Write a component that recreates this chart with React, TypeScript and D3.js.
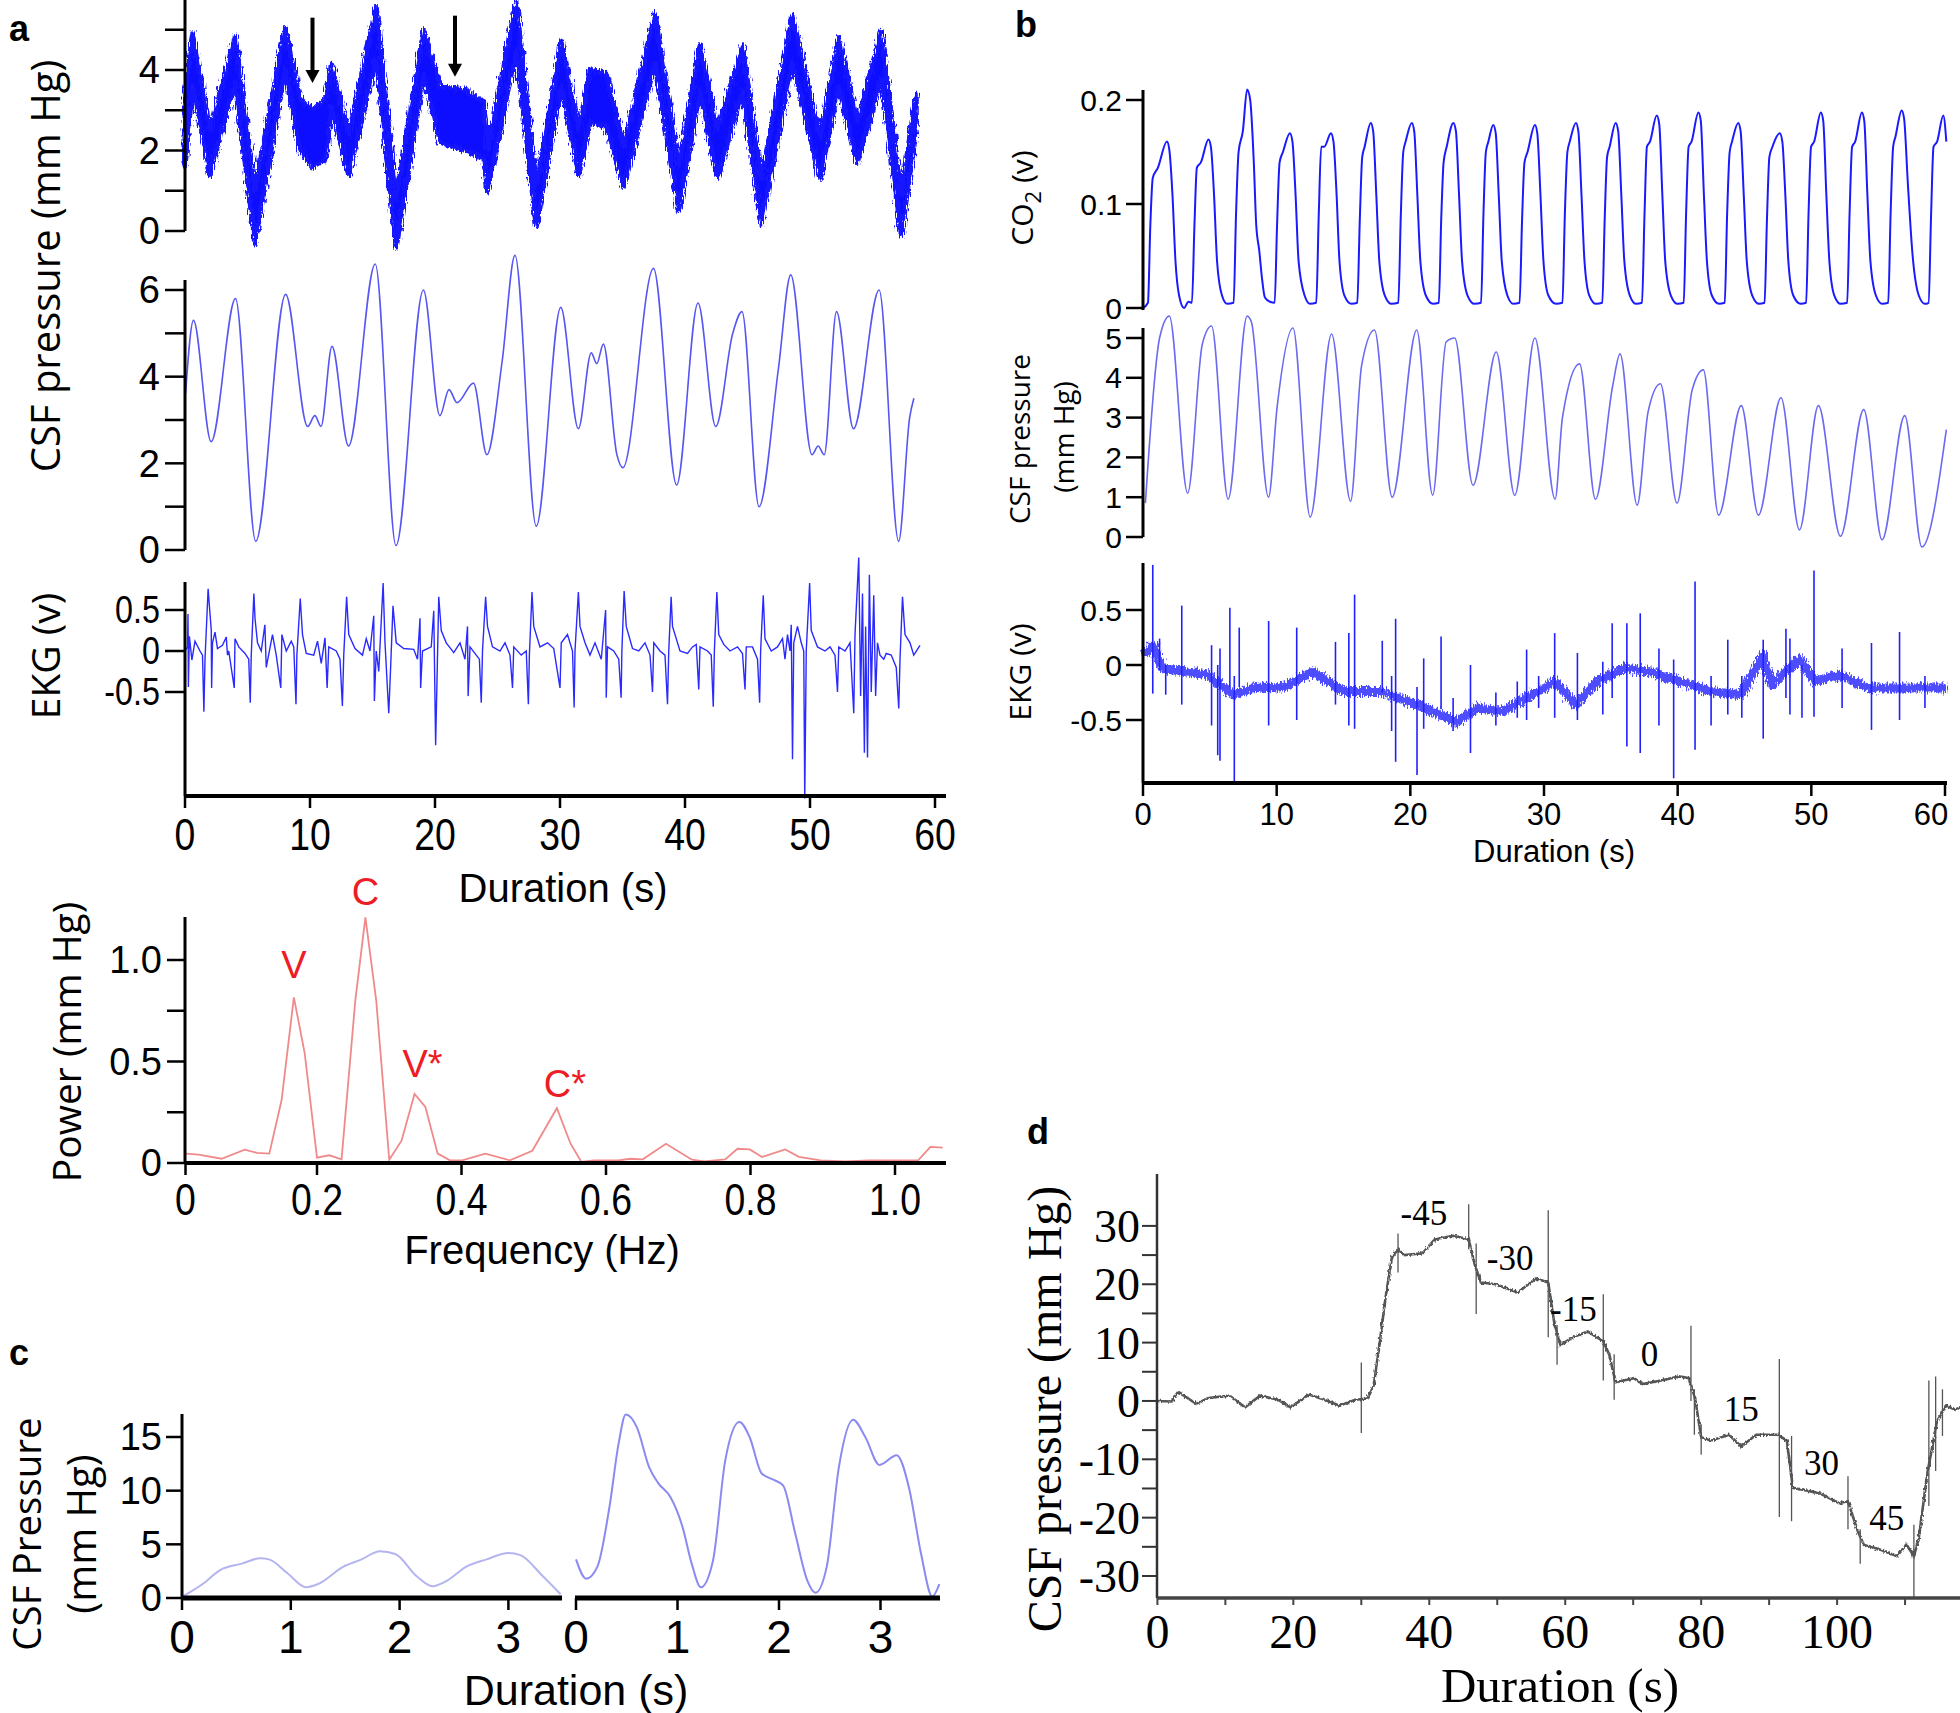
import React from "react";
import * as d3 from "d3";

const W = 1960;
const H = 1713;
const SANS = "'Liberation Sans', Arial, Helvetica, sans-serif";
const OPEN = "'Open Sans', 'DejaVu Sans', sans-serif";
const SERIF = "'Liberation Serif', 'Times New Roman', serif";

// ---------------- DATA ----------------
// Panel a – raw CSF pressure noise band: [time s, lower, upper] (mm Hg)
const aRawBand: [number, number, number][] = [
  [0.0, 1.6, 3.4], [0.6, 3.6, 4.9], [2.0, 1.4, 2.5], [4.0, 3.7, 4.85], [5.6, -0.3, 1.0],
  [8.0, 4.0, 5.05], [9.2, 2.0, 3.3], [10.2, 1.6, 3.0], [11.3, 1.8, 3.3], [11.7, 3.1, 4.15],
  [13.1, 1.4, 2.4], [15.3, 4.3, 5.55], [16.9, -0.4, 0.8], [19.1, 3.9, 5.0], [20.4, 2.2, 3.6],
  [22.4, 2.0, 3.5], [23.9, 1.8, 3.2], [24.2, 1.0, 2.0], [26.5, 4.5, 5.7], [28.1, 0.1, 1.1],
  [30.1, 3.6, 4.7], [31.5, 1.4, 2.5], [32.4, 2.7, 4.0], [33.7, 2.6, 3.9], [35.1, 1.1, 2.1],
  [37.6, 4.2, 5.4], [39.5, 0.5, 1.6], [41.2, 3.5, 4.6], [42.6, 1.3, 2.5], [44.6, 3.5, 4.6],
  [46.1, 0.2, 1.3], [48.6, 4.2, 5.35], [50.8, 1.3, 2.3], [52.3, 3.6, 4.8], [53.8, 1.7, 2.7],
  [55.7, 3.8, 4.95], [57.3, -0.1, 0.9], [58.5, 2.5, 3.4],
];
// Panel a – arrows [time s, top, tip] (mm Hg)
const aArrows: [number, number, number][] = [[10.2, 5.3, 3.68], [21.6, 5.35, 3.83]];
// Panel a – filtered CSF pressure [time s, mm Hg]
const aFiltered: [number, number][] = [
  [0.04, 3.6], [0.68, 5.3], [2.09, 2.5], [4.04, 5.8], [5.66, 0.2], [8.05, 5.9], [9.81, 2.85],
  [10.39, 3.1], [10.88, 2.85], [11.76, 4.7], [13.08, 2.4], [15.22, 6.6], [16.88, 0.1], [19.07, 6.0],
  [20.39, 3.1], [21.12, 3.7], [21.76, 3.4], [23.08, 3.85], [24.15, 2.2], [25.37, 4.35], [26.4, 6.8],
  [28.1, 0.55], [30.06, 5.6], [31.47, 2.8], [32.5, 4.55], [32.94, 4.3], [33.47, 4.75], [34.55, 2.2],
  [35.03, 1.9], [37.48, 6.5], [39.33, 1.5], [41.04, 5.7], [42.46, 2.85], [43.82, 5.0], [44.56, 5.5],
  [45.92, 1.0], [47.48, 4.2], [48.46, 6.35], [50.16, 2.2], [50.65, 2.4], [51.14, 2.2], [52.12, 5.5],
  [53.48, 2.8], [55.53, 6.0], [57.09, 0.2], [57.97, 3.05], [58.31, 3.5],
];
// Panel a – EKG [time s, v]
const aEkg: [number, number][] = [
  [0, 0], [0.2, 0.05], [0.24, 0.45], [0.27, -0.44], [0.35, 0.18], [0.55, -0.11], [0.8, 0.12], [1.2, 0.0],
  [1.4, -0.05], [1.51, -0.74], [1.6, -0.1], [1.85, 0.76], [1.95, 0.55], [2.1, 0.26], [2.13, -0.45], [2.2, 0.1],
  [2.4, 0.23], [2.6, 0.03], [3.0, 0.07], [3.3, 0.17], [3.4, -0.05], [3.5, 0.0], [3.94, -0.45], [4.0, 0.15],
  [4.3, 0.05], [4.8, -0.03], [5.1, -0.1], [5.22, -0.63], [5.3, -0.05], [5.51, 0.7], [5.6, 0.4], [5.8, 0.1],
  [6.1, 0.0], [6.39, 0.32], [6.5, -0.2], [7.0, 0.2], [7.3, -0.05], [7.66, -0.45], [7.75, 0.2], [8.1, 0.0],
  [8.5, 0.12], [8.7, 0.05], [8.88, -0.65], [8.95, -0.05], [9.22, 0.64], [9.4, 0.2], [9.7, -0.03], [10.3, -0.05],
  [10.6, 0.12], [10.9, -0.15], [11.2, 0.16], [11.37, -0.45], [11.5, 0.05], [12.1, 0.0], [12.4, -0.1],
  [12.59, -0.67], [12.7, -0.05], [12.93, 0.66], [13.1, 0.2], [13.6, 0.03], [14.2, -0.05], [14.5, 0.15],
  [14.8, 0.0], [15.1, 0.43], [15.15, -0.61], [15.3, 0.0], [15.5, -0.25], [15.85, 0.83], [16.0, 0.1],
  [16.3, -0.76], [16.45, -0.2], [16.64, 0.55], [16.9, 0.1], [17.5, 0.03], [18.3, 0.02], [18.6, -0.1],
  [18.8, 0.4], [18.85, -0.45], [19.0, 0.0], [19.7, 0.05], [19.9, 0.49], [20.05, -1.15], [20.3, 0.66],
  [20.5, 0.25], [20.9, 0.1], [21.5, -0.02], [22.0, 0.1], [22.4, -0.1], [22.6, 0.3], [22.65, -0.55],
  [22.8, 0.05], [23.3, -0.05], [23.55, -0.1], [23.7, -0.63], [23.8, 0.0], [24.05, 0.66], [24.2, 0.3],
  [24.6, 0.05], [25.2, 0.0], [25.6, 0.1], [26.0, -0.05], [26.2, -0.45], [26.3, 0.05], [26.9, -0.05],
  [27.3, 0.0], [27.47, -0.65], [27.55, -0.05], [27.76, 0.72], [27.9, 0.3], [28.4, 0.05], [29.0, 0.1],
  [29.5, 0.03], [30.0, -0.45], [30.1, 0.1], [30.6, 0.2], [31.0, 0.0], [31.13, -0.69], [31.2, 0.0],
  [31.47, 0.72], [31.6, 0.3], [32.0, 0.1], [32.4, -0.05], [32.8, 0.1], [33.3, -0.1], [33.65, 0.5],
  [33.7, -0.57], [33.8, 0.05], [34.3, 0.0], [34.7, -0.1], [34.89, -0.57], [34.95, 0.0], [35.13, 0.73],
  [35.3, 0.3], [35.8, 0.03], [36.3, 0.0], [36.8, 0.1], [37.2, -0.05], [37.4, -0.5], [37.5, 0.1], [38.0, 0.0],
  [38.4, -0.05], [38.6, -0.65], [38.7, 0.0], [38.89, 0.66], [39.0, 0.3], [39.6, 0.0], [40.2, -0.03],
  [40.6, 0.05], [40.9, 0.08], [41.1, -0.47], [41.2, 0.05], [41.8, 0.0], [42.1, -0.05], [42.26, -0.68],
  [42.35, 0.0], [42.55, 0.72], [42.7, 0.2], [43.1, 0.08], [43.6, 0.0], [44.2, 0.05], [44.6, -0.03],
  [44.8, -0.47], [44.9, 0.05], [45.4, 0.05], [45.8, -0.1], [45.97, -0.63], [46.05, 0.0], [46.26, 0.68],
  [46.4, 0.15], [46.9, 0.0], [47.4, 0.05], [47.8, 0.15], [48.0, -0.1], [48.2, 0.2], [48.4, 0.0], [48.5, 0.32],
  [48.6, -1.32], [48.7, 0.1], [49.0, 0.3], [49.3, 0.1], [49.5, 0.0], [49.58, -1.8], [49.7, 0.0], [49.97, 0.83],
  [50.1, 0.25], [50.6, 0.05], [51.2, 0.0], [51.6, 0.05], [52.0, -0.05], [52.2, -0.5], [52.3, 0.05],
  [52.8, 0.0], [53.2, 0.1], [53.5, -0.76], [53.6, 0.2], [53.9, 1.14], [54.05, -0.55], [54.2, 0.7],
  [54.35, -1.24], [54.45, 0.3], [54.6, -1.3], [54.75, 0.93], [54.9, -0.5], [55.1, 0.68], [55.25, -0.55],
  [55.4, 0.1], [55.6, -0.05], [55.9, -0.1], [56.1, -0.03], [56.5, -0.05], [56.9, -0.2], [57.1, -0.7],
  [57.2, -0.1], [57.4, 0.66], [57.6, 0.2], [58.0, 0.1], [58.3, -0.05], [58.8, 0.07],
];
// Panel a – power spectrum [Hz, mm Hg]
const aSpectrum: [number, number][] = [
  [0.018, 0.046], [0.036, 0.041], [0.068, 0.021], [0.1, 0.066], [0.117, 0.05], [0.134, 0.046],
  [0.151, 0.31], [0.168, 0.816], [0.183, 0.54], [0.2, 0.026], [0.217, 0.038], [0.234, 0.018],
  [0.253, 0.8], [0.267, 1.21], [0.282, 0.8], [0.3, 0.016], [0.317, 0.11], [0.335, 0.34], [0.35, 0.276],
  [0.367, 0.046], [0.384, 0.013], [0.401, 0.013], [0.433, 0.046], [0.467, 0.013], [0.498, 0.06],
  [0.532, 0.27], [0.551, 0.095], [0.566, 0.005], [0.583, 0.013], [0.617, 0.013], [0.634, 0.021],
  [0.651, 0.018], [0.683, 0.095], [0.719, 0.016], [0.736, 0.008], [0.765, 0.018], [0.782, 0.07],
  [0.799, 0.067], [0.816, 0.03], [0.848, 0.067], [0.867, 0.03], [0.897, 0.013], [0.931, 0.008],
  [0.964, 0.013], [1.032, 0.013], [1.049, 0.079], [1.066, 0.076],
];
const aPeakLabels = [
  { text: "V", f: 0.168, p: 0.975 },
  { text: "C", f: 0.267, p: 1.336 },
  { text: "V*", f: 0.346, p: 0.49 },
  { text: "C*", f: 0.543, p: 0.39 },
];
const timeTicks60 = [0, 10, 20, 30, 40, 50, 60];
const freqTicks: [number, string][] = [[0.018, "0"], [0.2, "0.2"], [0.4, "0.4"], [0.6, "0.6"], [0.8, "0.8"], [1.0, "1.0"]];

// Panel b – CO2 [time s, v]
const bCO2: [number, number][] = [
  [0, 0.0], [0.37, 0.005], [0.55, 0.08], [0.73, 0.125], [1.12, 0.135], [1.79, 0.16], [1.97, 0.152], [2.2, 0.11], [2.43, 0.045], [2.7, 0.012], [3.07, 0.0], [3.4, 0.006],
  [3.66, 0.005], [3.85, 0.08], [4.03, 0.135], [4.33, 0.14], [4.9, 0.162], [5.08, 0.155], [5.31, 0.11], [5.54, 0.045], [5.91, 0.012], [6.3, 0.004],
  [6.78, 0.005], [6.96, 0.09], [7.15, 0.15], [7.47, 0.17], [7.79, 0.21], [8.02, 0.2], [8.29, 0.14], [8.47, 0.08], [8.7, 0.055], [8.89, 0.03], [9.12, 0.01], [9.5, 0.006],
  [9.85, 0.005], [10.03, 0.08], [10.22, 0.14], [10.47, 0.15], [10.99, 0.168], [11.18, 0.16], [11.41, 0.11], [11.64, 0.045], [12.09, 0.012], [12.5, 0.004],
  [12.96, 0.005], [13.15, 0.09], [13.33, 0.155], [13.56, 0.155], [14.06, 0.168], [14.25, 0.16], [14.48, 0.11], [14.7, 0.045], [15.07, 0.012], [15.6, 0.004],
  [16.03, 0.005], [16.22, 0.085], [16.4, 0.145], [16.58, 0.155], [17.04, 0.178], [17.22, 0.17], [17.45, 0.11], [17.68, 0.045], [18.09, 0.012], [18.6, 0.004],
  [19.1, 0.005], [19.29, 0.09], [19.47, 0.15], [19.65, 0.16], [20.11, 0.178], [20.29, 0.17], [20.52, 0.11], [20.75, 0.045], [21.16, 0.012], [21.7, 0.004],
  [22.13, 0.005], [22.31, 0.085], [22.49, 0.14], [22.72, 0.155], [23.22, 0.178], [23.41, 0.17], [23.64, 0.11], [23.87, 0.045], [24.28, 0.012], [24.8, 0.004],
  [25.29, 0.005], [25.47, 0.09], [25.65, 0.15], [25.84, 0.16], [26.2, 0.176], [26.39, 0.168], [26.61, 0.11], [26.84, 0.045], [27.26, 0.012], [27.7, 0.004],
  [28.17, 0.005], [28.36, 0.085], [28.54, 0.14], [28.77, 0.15], [29.32, 0.176], [29.5, 0.168], [29.73, 0.11], [29.96, 0.045], [30.33, 0.012], [30.9, 0.004],
  [31.38, 0.005], [31.56, 0.09], [31.75, 0.15], [31.93, 0.16], [32.39, 0.178], [32.57, 0.17], [32.8, 0.11], [33.03, 0.045], [33.39, 0.012], [33.9, 0.004],
  [34.36, 0.005], [34.54, 0.085], [34.72, 0.145], [34.91, 0.155], [35.36, 0.178], [35.55, 0.17], [35.78, 0.11], [36.01, 0.045], [36.42, 0.012], [36.9, 0.004],
  [37.33, 0.005], [37.52, 0.09], [37.7, 0.155], [37.93, 0.16], [38.43, 0.185], [38.62, 0.177], [38.85, 0.11], [39.07, 0.045], [39.49, 0.012], [40.0, 0.004],
  [40.45, 0.005], [40.63, 0.09], [40.82, 0.155], [41.04, 0.16], [41.55, 0.188], [41.73, 0.18], [41.96, 0.11], [42.19, 0.045], [42.56, 0.012], [43.1, 0.004],
  [43.52, 0.005], [43.7, 0.09], [43.89, 0.15], [44.07, 0.16], [44.53, 0.178], [44.71, 0.17], [44.94, 0.11], [45.17, 0.045], [45.58, 0.012], [46.1, 0.004],
  [46.5, 0.005], [46.68, 0.085], [46.86, 0.145], [47.09, 0.155], [47.64, 0.168], [47.83, 0.16], [48.05, 0.11], [48.28, 0.045], [48.65, 0.012], [49.2, 0.004],
  [49.61, 0.005], [49.79, 0.09], [49.98, 0.155], [50.21, 0.16], [50.71, 0.188], [50.89, 0.18], [51.12, 0.11], [51.35, 0.045], [51.72, 0.012], [52.2, 0.004],
  [52.68, 0.005], [52.86, 0.09], [53.05, 0.155], [53.28, 0.16], [53.78, 0.188], [53.96, 0.18], [54.19, 0.11], [54.42, 0.045], [54.83, 0.012], [55.3, 0.004],
  [55.75, 0.005], [55.93, 0.09], [56.12, 0.155], [56.3, 0.165], [56.76, 0.19], [56.94, 0.182], [57.22, 0.12], [57.58, 0.05], [58.04, 0.012], [58.5, 0.004],
  [58.77, 0.005], [58.96, 0.09], [59.14, 0.155], [59.41, 0.16], [59.87, 0.185], [60.1, 0.16],
];
// Panel b – CSF pressure [time s, mm Hg]
const bCSF: [number, number][] = [
  [0.18, 0.85], [1.24, 5.0], [1.97, 5.55], [3.34, 1.1], [4.44, 4.85], [5.13, 5.3], [6.37, 0.95],
  [7.79, 5.55], [8.11, 5.4], [9.39, 1.0], [10.03, 3.25], [11.22, 5.25], [12.51, 0.5], [14.11, 5.1],
  [15.53, 0.9], [16.35, 4.3], [17.32, 5.2], [18.64, 1.0], [20.48, 5.2], [21.67, 1.05], [22.68, 4.9],
  [23.32, 5.0], [24.69, 1.3], [26.43, 4.65], [27.81, 1.05], [29.32, 5.0], [30.83, 0.95], [31.38, 3.0],
  [32.66, 4.35], [33.85, 0.95], [35.14, 3.8], [35.69, 4.6], [36.97, 0.8], [37.79, 3.15], [38.71, 3.85],
  [39.95, 0.85], [41.09, 3.7], [41.92, 4.2], [43.06, 0.55], [44.76, 3.3], [46.04, 0.55], [47.73, 3.5],
  [49.11, 0.18], [50.53, 3.3], [52.18, 0.02], [53.92, 3.2], [55.29, -0.07], [56.99, 3.05],
  [58.27, -0.25], [60.1, 2.7],
];
// Panel b – EKG wandering baseline [time s, v]
const bEkgBase: [number, number][] = [
  [0, 0.09], [0.78, 0.18], [1.47, -0.03], [3.07, -0.06], [4.9, -0.09], [6.73, -0.27], [8.57, -0.2],
  [10.4, -0.21], [12.69, -0.06], [14.98, -0.24], [17.73, -0.24], [20.48, -0.36], [23.45, -0.52],
  [25.06, -0.39], [26.89, -0.42], [28.72, -0.3], [30.78, -0.15], [32.39, -0.36], [33.99, -0.15],
  [36.05, -0.03], [37.88, -0.06], [40.17, -0.15], [42.46, -0.24], [44.76, -0.27], [46.36, 0.09],
  [47.05, -0.18], [49.11, 0.06], [50.25, -0.15], [52.08, -0.09], [54.37, -0.21], [57.12, -0.21], [60.1, -0.21],
];
// Panel b – EKG spikes [time s, low, high]
const bEkgSpikes: [number, number, number][] = [
  [0.73, -0.26, 0.91], [1.24, -0.05, 0.24], [1.7, -0.27, 0.0], [2.9, -0.36, 0.54], [5.13, -0.55, 0.18],
  [5.59, -0.82, 0.0], [5.76, -0.87, 0.15], [6.5, -0.2, 0.52], [6.83, -1.09, -0.1], [7.2, -0.2, 0.34],
  [9.4, -0.55, 0.4], [11.5, -0.5, 0.34], [14.4, -0.36, 0.21], [15.4, -0.55, 0.29], [15.83, -0.58, 0.64],
  [17.9, -0.25, 0.22], [18.6, -0.6, -0.1], [18.9, -0.88, 0.42], [20.5, -1.0, -0.2], [21.0, -0.58, 0.06],
  [22.3, -0.4, 0.26], [23.2, -0.6, -0.3], [24.5, -0.8, 0.0], [26.4, -0.55, -0.25], [28.0, -0.48, -0.15],
  [28.7, -0.5, 0.14], [29.6, -0.39, -0.1], [30.8, -0.48, 0.29], [32.5, -0.5, 0.11], [34.4, -0.45, 0.03],
  [35.1, -0.3, 0.38], [36.2, -0.74, 0.38], [37.2, -0.8, 0.47], [38.6, -0.55, 0.15], [39.7, -1.03, 0.05],
  [41.3, -0.77, 0.76], [42.5, -0.55, -0.1], [43.75, -0.45, 0.23], [44.8, -0.48, -0.1], [46.4, -0.67, 0.23],
  [48.1, -0.3, 0.33], [48.4, -0.45, 0.24], [49.3, -0.48, 0.0], [50.2, -0.47, 0.86], [52.3, -0.39, 0.15],
  [54.5, -0.59, 0.2], [56.6, -0.5, 0.3], [58.5, -0.39, -0.1],
];

// Panel c – CSF pressure before / after [time s, mm Hg]
const cBefore: [number, number][] = [
  [0, 0.1], [0.19, 1.3], [0.35, 2.6], [0.55, 3.2], [0.72, 3.7], [0.8, 3.6], [0.97, 2.3], [1.14, 1.0],
  [1.25, 1.3], [1.48, 2.9], [1.65, 3.6], [1.82, 4.35], [1.96, 4.1], [2.16, 2.0], [2.3, 1.1], [2.44, 1.65],
  [2.61, 2.9], [2.8, 3.6], [3.0, 4.2], [3.11, 4.0], [3.31, 2.1], [3.48, 0.35],
];
const cAfter: [number, number][] = [
  [0, 3.6], [0.1, 1.8], [0.21, 2.9], [0.33, 8.5], [0.42, 14.4], [0.49, 17.1], [0.6, 15.9], [0.72, 12.2],
  [0.81, 10.7], [0.93, 9.4], [1.05, 6.6], [1.14, 3.2], [1.23, 1.0], [1.35, 3.5], [1.47, 12.8], [1.61, 16.4],
  [1.71, 15.0], [1.83, 11.6], [1.95, 11.0], [2.04, 10.5], [2.16, 6.0], [2.28, 1.6], [2.36, 0.5], [2.47, 2.9],
  [2.59, 12.2], [2.73, 16.6], [2.85, 15.0], [2.99, 12.4], [3.16, 13.3], [3.28, 10.3], [3.4, 4.1],
  [3.51, 0.15], [3.58, 1.3],
];
const cTicks = [0, 1, 2, 3];

// Panel d – CSF pressure during tilt [time s, mm Hg]
const dTrace: [number, number][] = [
  [0, 0], [2.1, -0.1], [3.0, 1.5], [3.9, 0.9], [5.7, -0.5], [7.5, 0.5], [10.6, 0.9], [12.9, -1.1],
  [15.1, 0.9], [17.8, 0.2], [19.6, -1.1], [22.3, 1.1], [24.6, 0.2], [26.8, -0.8], [29.1, 0.2], [30.9, 0.4],
  [31.8, 2.5], [32.7, 9.9], [33.6, 18.0], [34.5, 24.6], [35.4, 26.0], [36.3, 25.0], [39.0, 25.3],
  [40.8, 27.7], [43.5, 28.3], [45.8, 27.7], [46.7, 23.3], [47.6, 20.3], [49.8, 20.0], [53.0, 18.6],
  [55.7, 21.0], [57.5, 20.3], [58.4, 13.3], [59.3, 9.6], [61.1, 10.9], [63.3, 11.9], [65.6, 10.2],
  [66.5, 7.9], [67.4, 3.2], [70.1, 3.9], [71.4, 2.9], [74.1, 3.5], [76.8, 4.2], [78.2, 3.9], [79.1, 0.5],
  [80.0, -6.2], [81.4, -6.8], [84.1, -5.8], [85.9, -7.8], [88.1, -5.8], [91.3, -5.8], [92.6, -6.8],
  [93.5, -14.9], [94.9, -15.2], [97.6, -15.9], [100.3, -17.5], [101.6, -17.2], [103.0, -22.2],
  [103.9, -24.6], [106.6, -25.6], [108.8, -26.6], [110.2, -24.6], [111.3, -26.6], [112.0, -23.6],
  [113.3, -12.2], [114.7, -3.5], [116.0, -0.8], [117.4, -1.5], [118.2, -1.0],
];
// Panel d – transient spikes [time s, low, high]
const dSpikes: [number, number, number][] = [
  [30.0, -5.5, 6.6], [35.4, 22, 28.7], [45.8, 26, 33.7], [46.9, 14.9, 27], [57.5, 10.9, 32.7],
  [58.8, 6.2, 13], [65.6, 3.5, 18.3], [67.2, 0.2, 8], [78.5, 0, 12.9], [79.0, -5.8, 2], [80.0, -9.2, -4],
  [91.5, -19.9, 7.2], [93.3, -20.6, -6], [101.6, -22, -12.9], [103.4, -27.9, -22], [111.3, -33.6, -21.2],
  [113.5, -18, 3.5], [114.5, -12, 4.2], [115.5, -6, 2],
];
// Panel d – tilt angle annotations
const dAngles = [
  { text: "-45", t: 39.2, v: 32.2 }, { text: "-30", t: 51.9, v: 24.5 }, { text: "-15", t: 61.2, v: 15.8 },
  { text: "0", t: 72.4, v: 8.1 }, { text: "15", t: 85.9, v: -1.3 }, { text: "30", t: 97.7, v: -10.6 },
  { text: "45", t: 107.3, v: -20.1 },
];
const dYMajor = [-30, -20, -10, 0, 10, 20, 30];
const dYMinor = [-25, -15, -5, 5, 15, 25];
const dXTicks = [0, 10, 20, 30, 40, 50, 60, 70, 80, 90, 100, 110];
const dXLabels = [0, 20, 40, 60, 80, 100];

// ---------------- HELPERS ----------------
type Scale = d3.ScaleLinear<number, number>;

function Txt(p: {
  x: number; y: number; s: React.ReactNode; fs: number; anchor?: string; family?: string; sx?: number;
  weight?: string; fill?: string; rot?: number; dy?: string;
}) {
  const { x, y, s, fs, anchor = "middle", family = SANS, sx = 1, weight = "normal", fill = "#000", rot = 0, dy = "0.35em" } = p;
  const tr = `translate(${x},${y})` + (rot ? ` rotate(${rot})` : "") + (sx !== 1 ? ` scale(${sx},1)` : "");
  return (
    <text transform={tr} textAnchor={anchor as any} fontFamily={family} fontSize={fs} fontWeight={weight} fill={fill} dy={dy}>
      {s}
    </text>
  );
}

function YAx(p: {
  x: number; top: number; bottom: number; scale: Scale; major: number[]; minor?: number[];
  fmt?: (v: number) => string; len: number; fs: number; gap?: number; sw?: number; family?: string;
  sx?: number; color?: string; tickW?: number;
}) {
  const { x, top, bottom, scale, major, minor = [], fmt = (v: number) => String(v), len, fs, gap = 5, sw = 3, family = SANS, sx = 1, color = "#000", tickW = 2.5 } = p;
  return (
    <g>
      <line x1={x} x2={x} y1={top} y2={bottom} stroke={color} strokeWidth={sw} />
      {[...major, ...minor].map((v, i) => (
        <line key={"t" + i} x1={x - len} x2={x} y1={scale(v)} y2={scale(v)} stroke={color} strokeWidth={tickW} />
      ))}
      {major.map((v, i) => (
        <Txt key={"l" + i} x={x - len - gap} y={scale(v)} s={fmt(v)} fs={fs} anchor="end" family={family} sx={sx} />
      ))}
    </g>
  );
}

function XAx(p: {
  y: number; left: number; right: number; scale: Scale; ticks: number[]; labels: [number, string][];
  len: number; fs: number; labelY: number; sw?: number; family?: string; sx?: number; color?: string; tickW?: number;
  lastShift?: number;
}) {
  const { y, left, right, scale, ticks, labels, len, fs, labelY, sw = 4, family = SANS, sx = 1, color = "#000", tickW = 2.5, lastShift = 0 } = p;
  return (
    <g>
      <line x1={left} x2={right} y1={y} y2={y} stroke={color} strokeWidth={sw} />
      {ticks.map((v, i) => (
        <line key={"t" + i} x1={scale(v)} x2={scale(v)} y1={y} y2={y + len} stroke={color} strokeWidth={tickW} />
      ))}
      {labels.map(([v, s], i) => (
        <Txt key={"l" + i} x={scale(v) + (i === labels.length - 1 ? lastShift : 0)} y={labelY} s={s} fs={fs} family={family} sx={sx} />
      ))}
    </g>
  );
}

const lbl = (arr: number[]): [number, string][] => arr.map((v) => [v, String(v)]);

// ---------------- APP ----------------
export default function App() {
  // Panel a scales
  const tA = d3.scaleLinear().domain([0, 60]).range([185, 935]);
  const yA1 = d3.scaleLinear().domain([0, 4]).range([231, 70]);
  const yA2 = d3.scaleLinear().domain([0, 6]).range([550, 290]);
  const yA3 = d3.scaleLinear().domain([-0.5, 0.5]).range([692, 610]);
  const fP = d3.scaleLinear().domain([0.2, 1.0]).range([317, 895]);
  const yP = d3.scaleLinear().domain([0, 1]).range([1163, 960]);
  // Panel b scales
  const tB = d3.scaleLinear().domain([0, 60]).range([1143, 1945]);
  const yB1 = d3.scaleLinear().domain([0, 0.2]).range([308, 100]);
  const yB2 = d3.scaleLinear().domain([0, 5]).range([537, 338]);
  const yB3 = d3.scaleLinear().domain([-0.5, 0.5]).range([720, 610]);
  // Panel c scales
  const yC = d3.scaleLinear().domain([0, 15]).range([1598, 1437]);
  const tC1 = d3.scaleLinear().domain([0, 3]).range([182, 508.4]);
  const tC2 = d3.scaleLinear().domain([0, 3]).range([576, 880.5]);
  // Panel d scales
  const tD = d3.scaleLinear().domain([0, 100]).range([1157.4, 1837.1]);
  const yD = d3.scaleLinear().domain([-30, 30]).range([1576, 1225.9]);

  const band = d3.area<[number, number, number]>().x((d) => tA(d[0])).y0((d) => yA1(d[1])).y1((d) => yA1(d[2]));
  const lineOf = (xs: Scale, ys: Scale, curve: d3.CurveFactory = d3.curveLinear) =>
    d3.line<[number, number]>().x((d) => xs(d[0])).y((d) => ys(d[1])).curve(curve);

  return (
    <svg width={W} height={H} style={{ position: "absolute", left: 0, top: 0 }} xmlns="http://www.w3.org/2000/svg">
      <defs>
        <filter id="rough" x="-3%" y="-10%" width="106%" height="120%">
          <feTurbulence type="fractalNoise" baseFrequency="0.9 0.12" numOctaves={2} seed={4} result="n" />
          <feDisplacementMap in="SourceGraphic" in2="n" scale={9} xChannelSelector="R" yChannelSelector="G" />
        </filter>
        <filter id="roughB" x="-3%" y="-20%" width="106%" height="140%">
          <feTurbulence type="fractalNoise" baseFrequency="0.8 0.2" numOctaves={2} seed={9} result="n" />
          <feDisplacementMap in="SourceGraphic" in2="n" scale={10} xChannelSelector="R" yChannelSelector="G" />
        </filter>
        <filter id="roughD" x="-3%" y="-5%" width="106%" height="110%">
          <feTurbulence type="fractalNoise" baseFrequency="0.6 0.3" numOctaves={1} seed={2} result="n" />
          <feDisplacementMap in="SourceGraphic" in2="n" scale={4} xChannelSelector="R" yChannelSelector="G" />
        </filter>
      </defs>
      <rect width={W} height={H} fill="#fff" />

      {/* ========== PANEL A ========== */}
      <Txt x={9} y={28} s="a" fs={36} anchor="start" weight="bold" />
      {/* raw CSF */}
      <g filter="url(#rough)">
        <path d={band(aRawBand) || ""} fill="#0808ff" stroke="#1414ff" strokeWidth={5} strokeLinejoin="round" />
      </g>
      {aArrows.map(([t, top, tip], i) => (
        <g key={i}>
          <line x1={tA(t)} x2={tA(t)} y1={yA1(top)} y2={yA1(tip) - 10} stroke="#000" strokeWidth={4} />
          <path d={`M${tA(t) - 7},${yA1(tip) - 13} L${tA(t) + 7},${yA1(tip) - 13} L${tA(t)},${yA1(tip)} Z`} fill="#000" />
        </g>
      ))}
      <YAx x={185} top={0} bottom={231} scale={yA1} major={[0, 2, 4]} minor={[1, 3, 5]} len={20} fs={38} />
      {/* filtered CSF */}
      <path d={lineOf(tA, yA2, d3.curveMonotoneX)(aFiltered) || ""} fill="none" stroke="#5656f2" strokeWidth={1.6} />
      <YAx x={185} top={280} bottom={550} scale={yA2} major={[0, 2, 4, 6]} minor={[1, 3, 5]} len={20} fs={38} />
      {/* EKG */}
      <path d={lineOf(tA, yA3)(aEkg) || ""} fill="none" stroke="#2a2aff" strokeWidth={1.4} />
      <YAx x={185} top={582} bottom={796} scale={yA3} major={[-0.5, 0, 0.5]} len={20} fs={38} sx={0.85} />
      <XAx y={796} left={185} right={946} scale={tA} ticks={timeTicks60} labels={lbl(timeTicks60)} len={12} fs={44} labelY={835} sx={0.85} />
      <Txt x={46} y={266} s="CSF pressure (mm Hg)" fs={40} rot={-90} family={OPEN} />
      <Txt x={46} y={656} s="EKG (v)" fs={39} rot={-90} family={OPEN} />
      <Txt x={563} y={888} s="Duration (s)" fs={40} />
      {/* spectrum */}
      <path d={lineOf(fP, yP)(aSpectrum) || ""} fill="none" stroke="#f08a8a" strokeWidth={1.8} />
      {aPeakLabels.map((l, i) => (
        <Txt key={i} x={fP(l.f)} y={yP(l.p)} s={l.text} fs={38} fill="#ee1c25" />
      ))}
      <YAx x={185} top={917} bottom={1163} scale={yP} major={[0, 0.5, 1.0]} minor={[0.25, 0.75]}
        fmt={(v) => (v === 0 ? "0" : v.toFixed(1))} len={18} fs={38} gap={5} />
      <XAx y={1163} left={185} right={946} scale={fP} ticks={freqTicks.map((d) => d[0])} labels={freqTicks} len={12} fs={44} labelY={1200} sx={0.85} />
      <Txt x={67} y={1042} s="Power (mm Hg)" fs={39} rot={-90} family={OPEN} />
      <Txt x={542} y={1250} s="Frequency (Hz)" fs={40} />

      {/* ========== PANEL B ========== */}
      <Txt x={1015} y={24} s="b" fs={36} anchor="start" weight="bold" />
      <path d={lineOf(tB, yB1, d3.curveMonotoneX)(bCO2) || ""} fill="none" stroke="#1a1aff" strokeWidth={2} />
      <YAx x={1143} top={90} bottom={310} scale={yB1} major={[0, 0.1, 0.2]} len={17} fs={30} gap={4} />
      <path d={lineOf(tB, yB2, d3.curveMonotoneX)(bCSF) || ""} fill="none" stroke="#6a6af2" strokeWidth={1.6} />
      <YAx x={1143} top={328} bottom={537} scale={yB2} major={[0, 1, 2, 3, 4, 5]} len={17} fs={30} gap={4} />
      <g filter="url(#roughB)">
        <path d={lineOf(tB, yB3)(bEkgBase) || ""} fill="none" stroke="#2f2fff" strokeWidth={9} strokeOpacity={0.85} strokeLinejoin="round" />
      </g>
      {bEkgSpikes.map(([t, lo, hi], i) => (
        <line key={i} x1={tB(t)} x2={tB(t)} y1={yB3(lo)} y2={yB3(hi)} stroke="#2020ff" strokeWidth={1.6} />
      ))}
      <YAx x={1143} top={563} bottom={783} scale={yB3} major={[-0.5, 0, 0.5]} len={17} fs={30} gap={4} />
      <XAx y={783} left={1143} right={1947} scale={tB} ticks={timeTicks60} labels={lbl(timeTicks60)} len={13} fs={31} labelY={814} lastShift={-14} />
      <text transform="translate(1022,198) rotate(-90)" textAnchor="middle" fontFamily={OPEN} fontSize={30} dy="0.35em">
        CO<tspan fontSize={22} dy={8}>2</tspan><tspan dy={-8}> (v)</tspan>
      </text>
      <Txt x={1020} y={439} s="CSF pressure" fs={28} rot={-90} family={OPEN} />
      <Txt x={1064} y={437} s="(mm Hg)" fs={28} rot={-90} family={OPEN} />
      <Txt x={1020} y={672} s="EKG (v)" fs={30} rot={-90} family={OPEN} />
      <Txt x={1554} y={851} s="Duration (s)" fs={31} />

      {/* ========== PANEL C ========== */}
      <Txt x={9} y={1352} s="c" fs={36} anchor="start" weight="bold" />
      <path d={lineOf(tC1, yC, d3.curveMonotoneX)(cBefore) || ""} fill="none" stroke="#b4b4f0" strokeWidth={2} />
      <path d={lineOf(tC2, yC, d3.curveMonotoneX)(cAfter) || ""} fill="none" stroke="#8a8af0" strokeWidth={2} />
      <YAx x={182} top={1414} bottom={1598} scale={yC} major={[0, 5, 10, 15]} len={16} fs={38} gap={4} />
      <XAx y={1598} left={182} right={562} scale={tC1} ticks={cTicks} labels={lbl(cTicks)} len={12} fs={46} labelY={1637} sw={5} />
      <XAx y={1598} left={575} right={940} scale={tC2} ticks={cTicks} labels={lbl(cTicks)} len={12} fs={46} labelY={1637} sw={5} />
      <Txt x={28} y={1534} s="CSF Pressure" fs={38.5} rot={-90} family={OPEN} />
      <Txt x={82} y={1534} s="(mm Hg)" fs={40} rot={-90} family={OPEN} />
      <Txt x={576} y={1690} s="Duration (s)" fs={43} />

      {/* ========== PANEL D ========== */}
      <Txt x={1027} y={1131} s="d" fs={36} anchor="start" weight="bold" />
      <g filter="url(#roughD)">
        <path d={lineOf(tD, yD)(dTrace) || ""} fill="none" stroke="#555" strokeWidth={2.6} />
      </g>
      {dSpikes.map(([t, lo, hi], i) => (
        <line key={i} x1={tD(t)} x2={tD(t)} y1={yD(lo)} y2={yD(hi)} stroke="#555" strokeWidth={1.3} />
      ))}
      {dAngles.map((a, i) => (
        <Txt key={i} x={tD(a.t)} y={yD(a.v)} s={a.text} fs={35} family={SERIF} />
      ))}
      <YAx x={1157} top={1174} bottom={1598} scale={yD} major={dYMajor} minor={dYMinor} len={15} fs={46} gap={2}
        family={SERIF} color="#333" sw={2.5} tickW={2} />
      <XAx y={1598} left={1157} right={1960} scale={tD} ticks={dXTicks} labels={lbl(dXLabels)} len={7} fs={48}
        labelY={1631} family={SERIF} color="#444" sw={3.5} tickW={2} />
      <Txt x={1044} y={1409} s="CSF pressure (mm Hg)" fs={48} rot={-90} family={SERIF} />
      <Txt x={1560} y={1685} s="Duration (s)" fs={49} family={SERIF} />
    </svg>
  );
}
